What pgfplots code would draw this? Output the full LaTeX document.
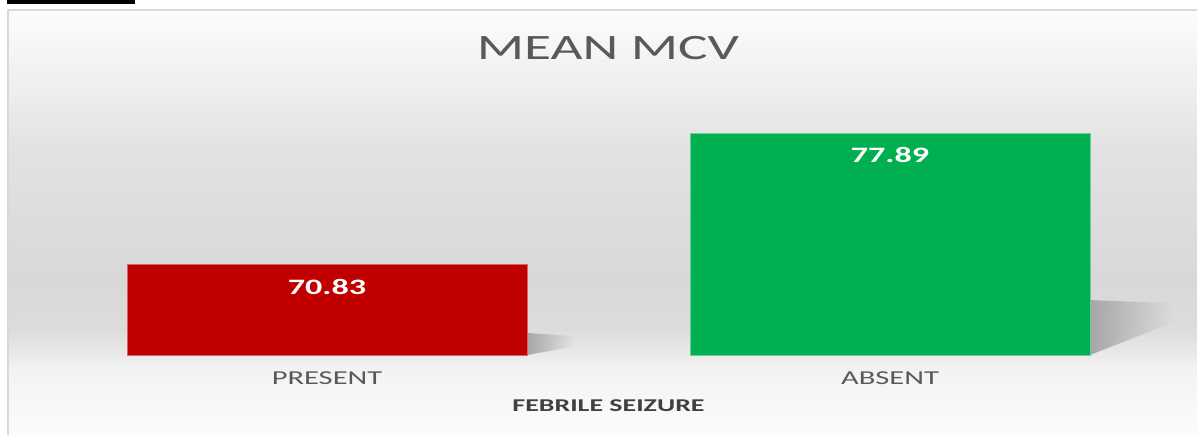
\documentclass[border=0pt]{standalone}
\usepackage{fontspec}
\setmainfont{Carlito}
\usepackage{graphicx}
\usepackage{pgfplots}
\pgfplotsset{compat=1.18}
\usetikzlibrary{fadings}
\definecolor{barred}{HTML}{C00000}
\definecolor{bargreen}{HTML}{00B050}
\definecolor{txtgray}{HTML}{595959}
\definecolor{lblgray}{HTML}{404040}
\definecolor{bgA}{HTML}{FCFCFC}
\definecolor{bgB}{HTML}{F3F3F3}
\definecolor{bgC}{HTML}{DCDCDC}
\definecolor{bgD}{HTML}{D8D8D8}
\definecolor{bgE}{HTML}{E2E2E2}
\definecolor{bgF}{HTML}{F0F0F0}
\definecolor{bgG}{HTML}{FCFCFC}
\pgfdeclareverticalshading{bgshade}{100bp}{color(0bp)=(bgA); color(25bp)=(bgA); color(32.6bp)=(bgB); color(37.4bp)=(bgC); color(43.2bp)=(bgD); color(58.5bp)=(bgE); color(66.8bp)=(bgF); color(75bp)=(bgG); color(100bp)=(bgG)}
\newcommand{\sx}[1]{\scalebox{1.55}[1]{#1}}
\begin{document}
\begin{tikzpicture}[x=1pt,y=1pt]
\path[use as bounding box] (0,0) rectangle (598.5,217.5);
\fill[white] (0,0) rectangle (598.5,217.5);
\shade[shading=bgshade] (4,0) rectangle (598.5,212.5);
\draw[black!15, line width=1pt] (4,0) -- (4,212.5) -- (598.5,212.5);
\fill[black] (3.5,215.5) rectangle (67.5,217.5);
\begin{axis}[
  at={(22.75pt,40pt)}, anchor=south west,
  scale only axis, width=563pt, height=130.7pt,
  xmin=-0.5, xmax=1.5, ymin=66, ymax=80,
  axis line style={draw=none},
  major tick length=0pt,
  ytick=\empty,
  xtick={0,1},
  xticklabels={\sx{PRESENT},\sx{ABSENT}},
  xticklabel style={text=txtgray, font=\fontsize{9.85}{12}\selectfont, anchor=center, yshift=-11.5pt},
  xlabel={\sx{FEBRILE SEIZURE}},
  xlabel style={at={(axis description cs:0.5,0)}, anchor=center, yshift=-25.5pt, font=\bfseries\fontsize{9}{11}\selectfont, text=lblgray},
  /pgf/number format/assume math mode=true,
  nodes near coords={\sx{\pgfmathprintnumber[fixed,fixed zerofill,precision=2]{\pgfplotspointmeta}}},
  nodes near coords style={anchor=center, yshift=-11pt, text=white, font=\bfseries\fontsize{11}{13}\selectfont},
]
\fill[black!35, path fading=east] (axis cs:0.3553,66) -- (axis cs:0.3553,67.18) -- (axis cs:0.437,67.02) -- (axis cs:0.437,66.43) -- cycle;
\fill[black!35, path fading=east] (axis cs:1.3553,66) -- (axis cs:1.3553,68.94) -- (axis cs:1.5,68.78) -- (axis cs:1.5,67.71) -- cycle;
\addplot[ybar, bar width=0.7105, bar shift=0pt, fill=barred, draw=barred!60!white, line width=0.4pt] coordinates {(0,70.83)};
\addplot[ybar, bar width=0.7105, bar shift=0pt, fill=bargreen, draw=bargreen!60!white, line width=0.4pt] coordinates {(1,77.89)};
\end{axis}
\node[text=txtgray, font=\fontsize{17.85}{20}\selectfont] at (304,193.5) {\sx{MEAN MCV}};
\end{tikzpicture}
\end{document}
